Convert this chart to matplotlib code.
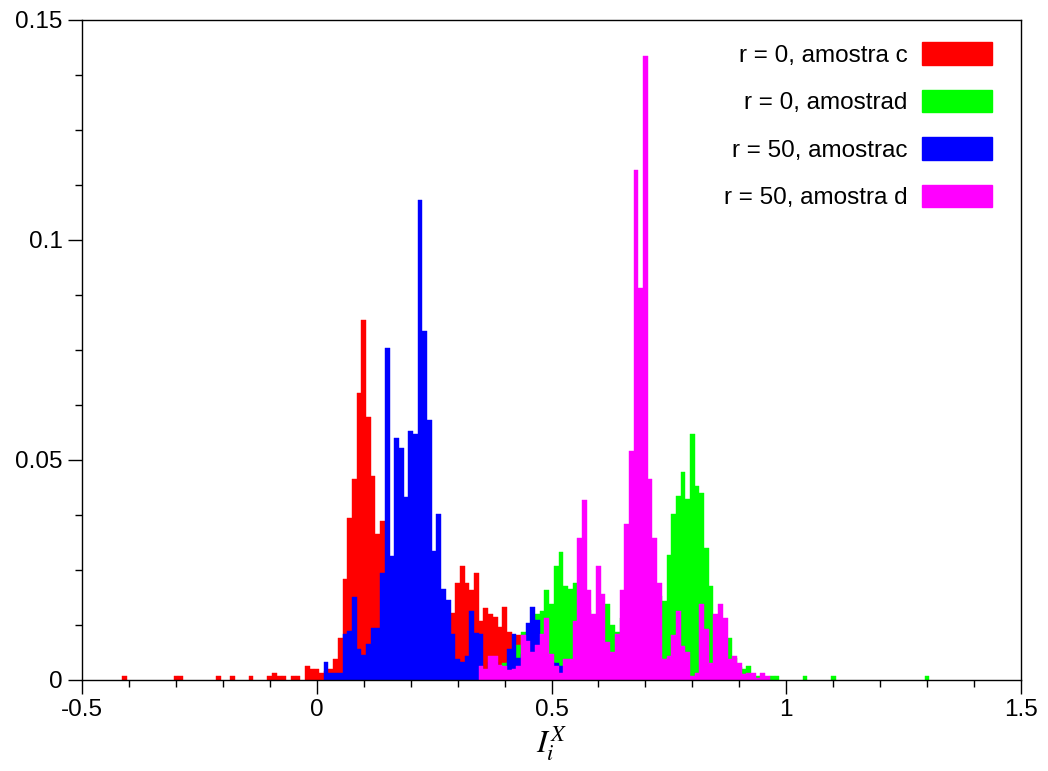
import numpy as np
import matplotlib
matplotlib.use("Agg")
import matplotlib.pyplot as plt
from matplotlib.patches import Patch

# bin width of the histograms
w = 0.01

# r = 0, amostra c (red)
red_tail_x = [-0.41, -0.30, -0.29, -0.21, -0.18, -0.14, -0.10, -0.09, -0.08, -0.07, -0.05, -0.04]
red_tail_y = [0.0008, 0.0008, 0.0008, 0.0008, 0.0008, 0.0008, 0.0008, 0.0016, 0.0008, 0.0008, 0.0008, 0.0008]
red_x0 = -0.02
red_y = [0.0032, 0.0024, 0.0024, 0.0016, 0.002, 0.0024, 0.0047, 0.0095, 0.023, 0.0369,
         0.0456, 0.0653, 0.0818, 0.0598, 0.0464, 0.0331, 0.0361, 0.028, 0.025, 0.022,
         0.02, 0.018, 0.016, 0.015, 0.014, 0.013, 0.012, 0.012, 0.011, 0.011,
         0.012, 0.0152, 0.022, 0.0259, 0.0221, 0.0205, 0.0244, 0.0134, 0.0163, 0.0149,
         0.0143, 0.012, 0.0167, 0.011, 0.0095, 0.0103, 0.005, 0.003, 0.002, 0.001]

# r = 0, amostra d (green)
green_x0 = 0.39
green_y = [0.0016, 0.0039, 0.004, 0.005, 0.0079, 0.011, 0.0105, 0.012, 0.0149, 0.0157,
           0.0204, 0.0172, 0.0259, 0.0291, 0.0214, 0.0206, 0.022, 0.018, 0.017, 0.016,
           0.013, 0.014, 0.015, 0.0172, 0.0125, 0.011, 0.014, 0.015, 0.016, 0.017,
           0.018, 0.018, 0.019, 0.02, 0.019, 0.018, 0.0284, 0.0378, 0.0418, 0.0473,
           0.0411, 0.0559, 0.0442, 0.0426, 0.0299, 0.0214, 0.012, 0.01, 0.009, 0.0095,
           0.005, 0.003, 0.0024, 0.0032, 0.0008, 0.0009, 0.0008, 0.0, 0.0008, 0.0008]
green_tail_x = [1.04, 1.10, 1.30]
green_tail_y = [0.0008, 0.0008, 0.0008]

# r = 50, amostra c (blue)
blue_x0 = 0.02
blue_y = [0.004, 0.0015, 0.0017, 0.0017, 0.0104, 0.0111, 0.0189, 0.0071, 0.0056, 0.0081,
          0.0119, 0.0119, 0.0244, 0.0755, 0.0282, 0.0551, 0.0528, 0.0417, 0.0566, 0.0558,
          0.1092, 0.0793, 0.059, 0.0293, 0.0378, 0.0206, 0.0181, 0.0104, 0.0048, 0.0041,
          0.0055, 0.0157, 0.0106, 0.0105, 0.002, 0.004, 0.004, 0.003, 0.003, 0.007,
          0.0104, 0.0049, 0.006, 0.013, 0.0166, 0.0136, 0.006, 0.005, 0.004, 0.0039,
          0.0032, 0.0015]

# r = 50, amostra d (magenta)
mag_x0 = 0.35
mag_y = [0.0032, 0.0024, 0.0055, 0.0055, 0.0035, 0.0032, 0.0022, 0.0025, 0.0032, 0.0103,
         0.0088, 0.0064, 0.0079, 0.0105, 0.0142, 0.0058, 0.0032, 0.0017, 0.0047, 0.0047,
         0.0134, 0.0323, 0.0408, 0.0205, 0.0149, 0.0259, 0.0196, 0.0087, 0.0064, 0.0104,
         0.0204, 0.0355, 0.052, 0.1158, 0.0891, 0.1418, 0.0457, 0.0323, 0.022, 0.0047,
         0.0055, 0.0102, 0.0156, 0.0078, 0.0064, 0.001, 0.0016, 0.0173, 0.0117, 0.0039,
         0.0149, 0.0173, 0.0142, 0.0047, 0.0055, 0.0039, 0.0013, 0.0017, 0.0017, 0.0004,
         0.0017, 0.0009]

labels = ["r = 0, amostra c", "r = 0, amostrad", "r = 50, amostrac", "r = 50, amostra d"]
colors = ["#ff0000", "#00ff00", "#0000ff", "#ff00ff"]

xticks = [-0.5, 0, 0.5, 1, 1.5]
xticklabels = ["-0.5", "0", "0.5", "1", "1.5"]
yticks = [0, 0.05, 0.1, 0.15]
yticklabels = ["0", "0.05", "0.1", "0.15"]


def centers(x0, n):
    return x0 + w * np.arange(n)


plt.rcParams["font.family"] = ["Liberation Sans", "DejaVu Sans"]
plt.rcParams["mathtext.fontset"] = "stix"

fig = plt.figure(figsize=(10.48, 7.71), dpi=100)
ax = fig.add_axes([82 / 1048, 1 - 680 / 771, 939 / 1048, 660 / 771])

series = [
    (np.concatenate([red_tail_x, centers(red_x0, len(red_y))]), red_tail_y + red_y),
    (np.concatenate([centers(green_x0, len(green_y)), green_tail_x]), green_y + green_tail_y),
    (centers(blue_x0, len(blue_y)), blue_y),
    (centers(mag_x0, len(mag_y)), mag_y),
]
for (x, y), c in zip(series, colors):
    ax.bar(x, y, width=w, color=c, edgecolor=c, linewidth=0.3)

ax.set_xlim(-0.5, 1.5)
ax.set_ylim(0, 0.15)
ax.set_xticks(xticks)
ax.set_xticklabels(xticklabels)
ax.set_xticks(np.arange(-0.4, 1.5, 0.1), minor=True)
ax.set_yticks(yticks)
ax.set_yticklabels(yticklabels)
ax.set_yticks(np.arange(0.0125, 0.15, 0.0125), minor=True)
ax.tick_params(which="major", direction="out", length=10, width=1, labelsize=17.5, pad=4)
ax.tick_params(which="minor", direction="out", length=5, width=1)
for s in ax.spines.values():
    s.set_linewidth(1)

ax.set_xlabel(r"$I_i^X$", fontsize=23, labelpad=2)

handles = [Patch(facecolor=c, edgecolor=c) for c in colors]
ax.legend(handles, labels, loc="upper right", bbox_to_anchor=(0.969, 0.966),
          frameon=False, markerfirst=False, fontsize=17.5, handlelength=2.88,
          handleheight=1.03, handletextpad=0.58, labelspacing=0.95,
          borderpad=0, borderaxespad=0)

fig.savefig("out.png", dpi=100)
